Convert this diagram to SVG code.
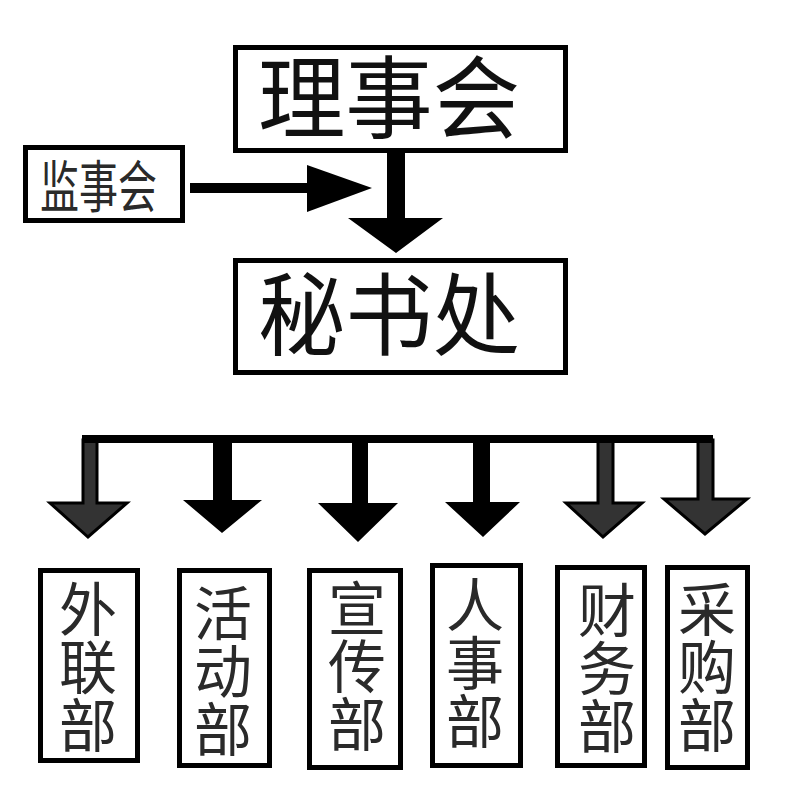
<svg xmlns="http://www.w3.org/2000/svg" width="800" height="800" viewBox="0 0 800 800">
<style>
.box{fill:#fff;stroke:#000;stroke-width:5}
.big{font-family:"Noto Sans CJK SC","Noto Sans",sans-serif;font-size:90px;fill:#111}
.mid{font-family:"Noto Sans CJK SC","Noto Sans",sans-serif;font-size:56px;fill:#2a2a2a}
.dep{font-family:"Noto Sans CJK SC","Noto Sans",sans-serif;font-size:58px;fill:#2a2a2a;writing-mode:vertical-rl;text-orientation:upright}
.blk{fill:#000}
.gry{fill:#333;stroke:#000;stroke-width:3;stroke-linejoin:miter}
</style>
<rect width="800" height="800" fill="#fff"/>
<g id="lishihui">
<rect class="box" x="235.5" y="47.5" width="330" height="103"/>
<text class="big" x="389" y="131" text-anchor="middle" textLength="262" lengthAdjust="spacingAndGlyphs">理事会</text>
</g>
<g id="jianshihui">
<rect class="box" x="25.5" y="147.5" width="157" height="73"/>
<text class="mid" x="40" y="207" textLength="117" lengthAdjust="spacingAndGlyphs">监事会</text>
</g>
<g id="mishuchu">
<rect class="box" x="235.5" y="260.5" width="330" height="112"/>
<text class="big" x="389" y="348" text-anchor="middle" textLength="262" lengthAdjust="spacingAndGlyphs">秘书处</text>
</g>
<g id="dept1">
<rect class="box" x="40.5" y="570.5" width="97" height="190"/>
<text class="dep" x="88" y="580">外联部</text>
</g>
<g id="dept2">
<rect class="box" x="179.5" y="570.5" width="90" height="195"/>
<text class="dep" x="223" y="584">活动部</text>
</g>
<g id="dept3">
<rect class="box" x="309.5" y="570.5" width="91" height="197"/>
<text class="dep" x="357" y="579">宣传部</text>
</g>
<g id="dept4">
<rect class="box" x="432.5" y="565.5" width="88" height="200"/>
<text class="dep" x="475" y="576">人事部</text>
</g>
<g id="dept5">
<rect class="box" x="557.5" y="567.5" width="87" height="198"/>
<text class="dep" x="607" y="581">财务部</text>
</g>
<g id="dept6">
<rect class="box" x="667.5" y="567.5" width="80" height="200"/>
<text class="dep" x="707" y="580">采购部</text>
</g>
<g id="connectors">
<polygon class="blk" points="387,152 405,152 405,218 443,218 396,253 348,218 387,218"/>
<rect class="blk" x="190" y="183" width="120" height="10"/>
<polygon class="blk" points="307,165 372,188 307,212"/>
<polygon class="gry" points="83,440 97,440 97,503 127,503 88,537 50,503 83,503"/>
<polygon class="blk" points="213,440 232,440 232,500 262,500 222,533 183,500 213,500"/>
<polygon class="blk" points="352,440 368,440 368,503 398,503 358,542 318,503 352,503"/>
<polygon class="blk" points="473,440 490,440 490,502 520,502 483,537 445,502 473,502"/>
<polygon class="gry" points="598,440 613,440 613,503 642,503 603,537 566,503 598,503"/>
<polygon class="gry" points="698,440 713,440 713,499 747,499 705,534 664,499 698,499"/>
<rect class="blk" x="82" y="435" width="631" height="8"/>
</g>
</svg>
